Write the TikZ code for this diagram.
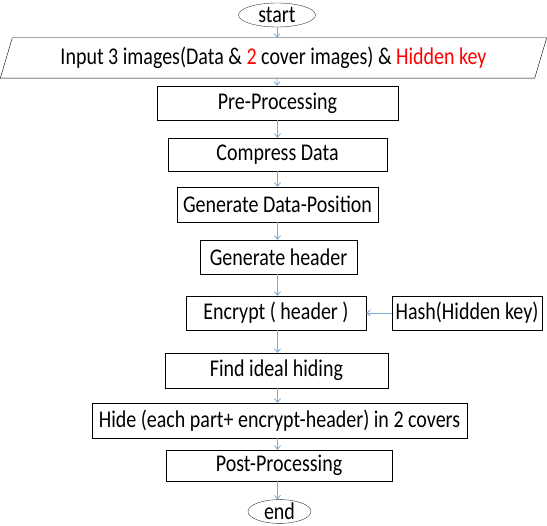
\documentclass[tikz,border=0pt]{standalone}
\usepackage{fontspec}
\usepackage{graphicx}
\setmainfont{Carlito}
\usetikzlibrary{shapes,arrows.meta,calc}
\definecolor{flowblue}{RGB}{120,170,222}
\definecolor{keyred}{RGB}{255,0,0}
% labels are set a little taller than wide
\newcommand{\tall}[1]{\scalebox{1}[1.2]{#1}}

\begin{document}
\begin{tikzpicture}[x=1pt,y=-1pt,
            startstop/.style={%
                ellipse, draw=black!80, thin, inner sep=0pt,%
                minimum height=24pt, font=\fontsize{20}{22}\selectfont%
            },
            io/.style={%
                rectangle, draw=none, inner sep=0pt, minimum height=40pt,%
                font=\fontsize{20}{22}\selectfont%
            },
            process/.style={%
                rectangle, draw=black, thin, inner sep=0pt,%
                minimum height=34pt, text centered,%
                font=\fontsize{20}{22}\selectfont%
            },
            arrow/.style={flowblue, line width=0.8pt, -{Straight Barb[length=3.5pt,width=6pt]}}
        ]
        \useasboundingbox (0,0) rectangle (547,526);

        % Define nodes
        \node (start) [startstop, minimum width=77pt] at (277,15) {\tall{start}};
        \node (input) [io, minimum width=546pt] at (273.5,58) {%
            \tall{Input 3 images(Data \& \textcolor{keyred}{2} cover images) \& \textcolor{keyred}{Hidden key}}%
        };
        % slanted input box
        \draw [thin] ($(input.north west)+(12,0)$) -- (input.north east)
            -- ($(input.south east)+(-12,0)$) -- (input.south west) -- cycle;
        \node (preproc) [process, minimum width=241pt] at (277.5,103) {\tall{Pre-Processing}};
        \node (compress) [process, minimum width=219pt, minimum height=33pt] at (277.5,154.5) {\tall{Compress Data}};
        \node (genpos) [process, minimum width=201pt, minimum height=35pt] at (277.5,204.5) {\tall{Generate Data-Position}};
        \node (genhead) [process, minimum width=157pt] at (278.5,257) {\tall{Generate header}};
        \node (encrypt) [process, minimum width=180pt] at (276,313) {\tall{Encrypt ( header )}};
        \node (hash) [process, minimum width=150pt] at (467,313) {\tall{Hash(Hidden key)}};
        \node (ideal) [process, minimum width=223pt, minimum height=35pt] at (276.5,370.5) {\tall{Find ideal hiding}};
        \node (hide) [process, minimum width=375pt, minimum height=35pt] at (279.5,420.5) {\tall{Hide (each part+ encrypt-header) in 2 covers}};
        \node (postproc) [process, minimum width=226pt, minimum height=31pt] at (279,465.5) {\tall{Post-Processing}};
        \node (end) [startstop, minimum width=63pt, minimum height=23pt] at (279.5,511.5) {\tall{end}};

        \draw [arrow] (start) -- (start |- input.north);
        \draw [arrow] (start |- input.south) -- (preproc);
        \draw [arrow] (preproc) -- (compress);
        \draw [arrow] (compress) -- (genpos);
        \draw [arrow] (genpos) -- (genpos |- genhead.north);
        \draw [arrow] (genpos |- genhead.south) -- (genpos |- encrypt.north);
        \draw [arrow] (hash) -- (encrypt);
        \draw [arrow] (genpos |- encrypt.south) -- (genpos |- ideal.north);
        \draw [arrow] (genpos |- ideal.south) -- (genpos |- hide.north);
        \draw [arrow] (genpos |- hide.south) -- (genpos |- postproc.north);
        \draw [arrow] (genpos |- postproc.south) -- (genpos |- end.north);

        \end{tikzpicture}
\end{document}
